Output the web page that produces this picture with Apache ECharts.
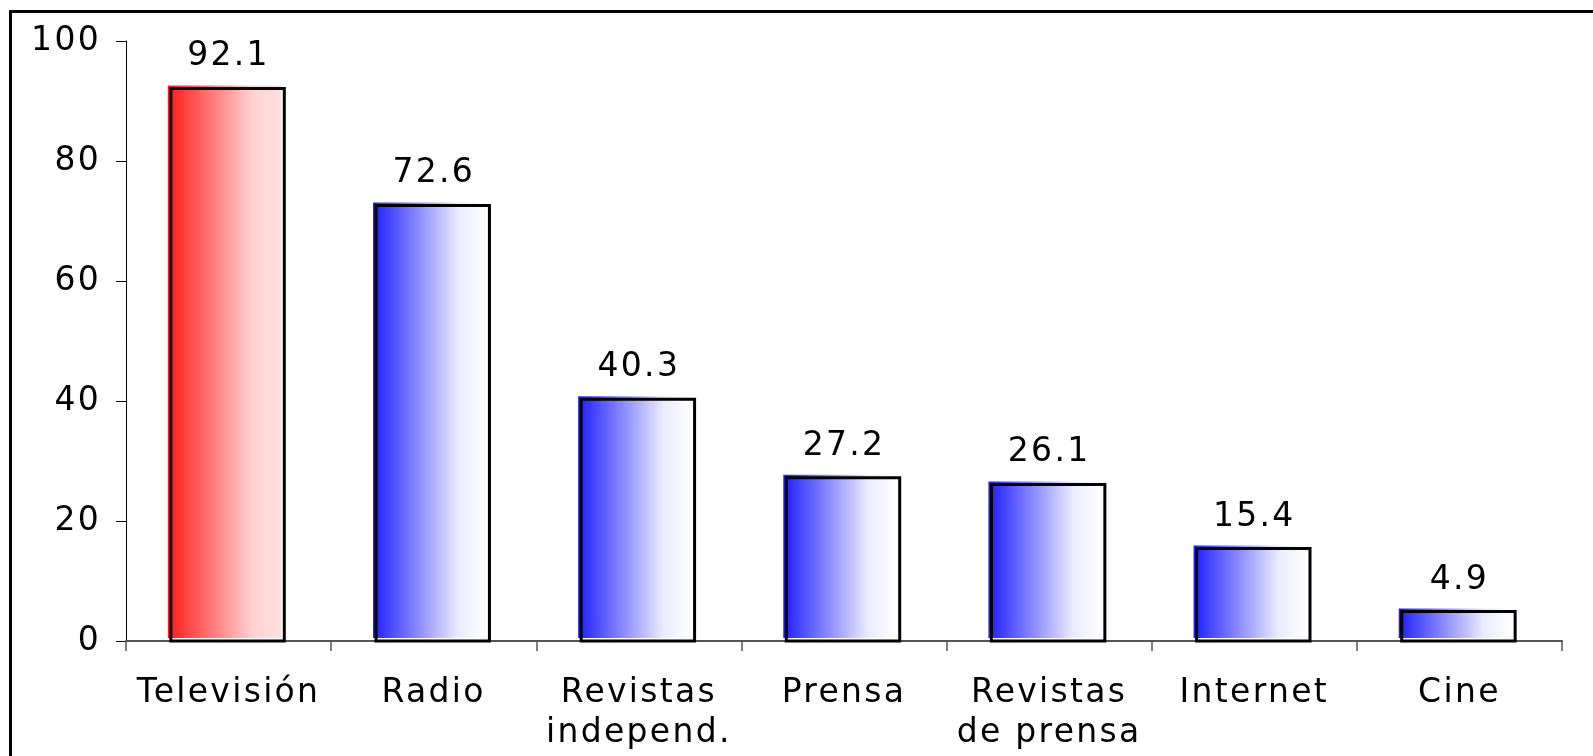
<!DOCTYPE html>
<html>
<head>
<meta charset="utf-8">
<script src="https://cdn.jsdelivr.net/npm/echarts@6/dist/echarts.min.js"></script>
<style>
html,body{margin:0;padding:0;background:#fff;}
#chart{width:1593px;height:756px;}
</style>
</head>
<body>
<div id="chart"></div>
<script>
// ---- data ----
const categories = ['Televisión', 'Radio', 'Revistas\nindepend.', 'Prensa', 'Revistas\nde prensa', 'Internet', 'Cine'];
const values = [92.1, 72.6, 40.3, 27.2, 26.1, 15.4, 4.9];
const yTicks = [0, 20, 40, 60, 80, 100];

// ---- letter spacing to mimic the wide original text ----
(function(){
  const proto = CanvasRenderingContext2D.prototype;
  const orig = proto.fillText;
  proto.fillText = function(){
    try { this.letterSpacing = '2.3px'; } catch(e) {}
    return orig.apply(this, arguments);
  };
})();

const FONT = '"DejaVu Sans", Verdana, sans-serif';
const FS = 33;
const highlightIndex = 0;

const chart = echarts.init(document.getElementById('chart'), null, {renderer: 'canvas'});

function renderItem(params, api) {
  const i = api.value(0);
  const v = api.value(1);
  const top = api.coord([i, v]);
  const base = api.coord([i, 0]);
  const w = api.size([1, 0])[0] * 0.553;
  const cx = top[0] - 1;
  const x = cx - w / 2;
  const y = top[1];
  const h = base[1] - top[1];
  const red = i === highlightIndex;
  const grad = new echarts.graphic.LinearGradient(0, 0, 1, 0, red ? [
    {offset: 0, color: '#ff1a1a'},
    {offset: 0.75, color: '#ffd2d2'},
    {offset: 1, color: '#ffe0e0'}
  ] : [
    {offset: 0, color: '#1e1eff'},
    {offset: 0.75, color: '#ecebff'},
    {offset: 1, color: '#ffffff'}
  ]);
  return {
    type: 'group',
    children: [
      {type: 'rect', shape: {x: x - 3, y: y - 3, width: w, height: h}, style: {fill: grad}},
      {type: 'rect', shape: {x: x, y: y, width: w, height: h}, style: {fill: 'none', stroke: '#000', lineWidth: 3}},
      {type: 'text', style: {
        text: v.toFixed(1), x: cx + 1, y: y - 15,
        align: 'center', verticalAlign: 'bottom',
        font: FS + 'px ' + FONT, fill: '#000'
      }}
    ]
  };
}

chart.setOption({
  animation: false,
  backgroundColor: '#fff',
  grid: {left: 126, right: 31, top: 41, bottom: 115, containLabel: false},
  graphic: [{
    type: 'rect', silent: true, z: 100,
    shape: {x: 10.5, y: 11.5, width: 1700, height: 900},
    style: {fill: 'none', stroke: '#000', lineWidth: 3}
  }],
  xAxis: {
    type: 'category',
    data: categories,
    boundaryGap: true,
    axisLine: {show: true, lineStyle: {color: '#555', width: 2}},
    axisTick: {show: true, length: 10, alignWithLabel: false, lineStyle: {color: '#555', width: 1.5}},
    axisLabel: {
      interval: 0, margin: 32, color: '#000',
      fontFamily: FONT, fontSize: FS, lineHeight: 40
    },
    splitLine: {show: false}
  },
  yAxis: {
    type: 'value',
    min: yTicks[0], max: yTicks[yTicks.length - 1], interval: yTicks[1] - yTicks[0],
    axisLine: {show: true, lineStyle: {color: '#000', width: 1}},
    axisTick: {show: true, length: 10, lineStyle: {color: '#000', width: 1}},
    axisLabel: {margin: 25, color: '#000', fontFamily: FONT, fontSize: FS},
    splitLine: {show: false}
  },
  series: [{
    type: 'custom',
    renderItem: renderItem,
    encode: {x: 0, y: 1},
    data: values.map((v, i) => [i, v]),
    z: 3
  }]
});
</script>
</body>
</html>
